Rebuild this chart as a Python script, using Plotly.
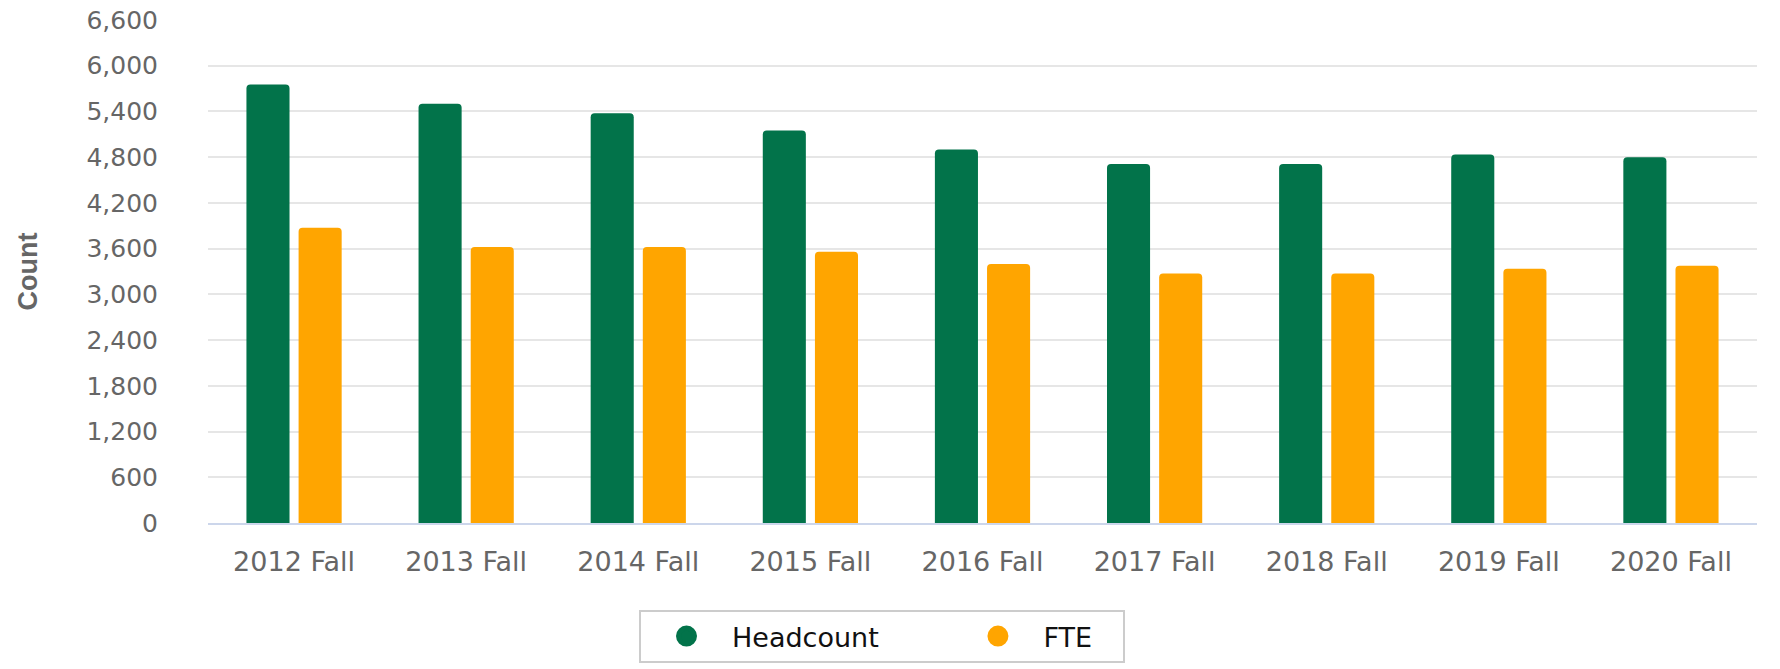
import plotly.graph_objects as go

categories = ["2012 Fall", "2013 Fall", "2014 Fall", "2015 Fall", "2016 Fall",
              "2017 Fall", "2018 Fall", "2019 Fall", "2020 Fall"]
headcount = [5755, 5500, 5375, 5150, 4900, 4710, 4710, 4835, 4800]
fte = [3875, 3620, 3620, 3560, 3400, 3275, 3275, 3335, 3375]
series_names = ["Headcount", "FTE"]
colors = ["#02734A", "#FFA500"]
y_ticks = list(range(0, 6601, 600))

NB = "\u00a0"
fig = go.Figure()
for name, vals, col in zip(series_names, [headcount, fte], colors):
    fig.add_trace(go.Bar(x=categories, y=vals, name=name, marker_color=col,
                         marker_line_width=0, showlegend=False))
# legend entries with circular symbols
legend_labels = [series_names[0] + NB * 8, series_names[1] + NB * 3]
for name, col in zip(legend_labels, colors):
    fig.add_trace(go.Scatter(x=[None], y=[None], mode="markers", name=name,
                             marker=dict(symbol="circle", size=24, color=col,
                                         line=dict(color=col, width=5))))

fig.update_layout(
    width=1780, height=669,
    margin=dict(l=208, r=23, t=20, b=146, autoexpand=False),
    paper_bgcolor="white", plot_bgcolor="white",
    barmode="group", bargap=0.394, bargroupgap=0.174, barcornerradius=4,
    font=dict(family="DejaVu Sans, sans-serif", color="#666666"),
    legend=dict(orientation="h", xref="container", yref="container",
                x=639 / 1780, xanchor="left", y=1 - 610 / 669, yanchor="top",
                bordercolor="#cccccc", borderwidth=2, bgcolor="white",
                font=dict(size=27, color="#111111"), itemsizing="trace",
                itemwidth=81, traceorder="normal"),
    showlegend=True,
)
fig.update_xaxes(
    showgrid=False, showline=True, linecolor="#ccd6eb", linewidth=1.5,
    ticks="outside", ticklen=14, tickcolor="rgba(0,0,0,0)",
    tickfont=dict(size=27, color="#666666"), fixedrange=True, automargin=False,
)
fig.update_yaxes(
    range=[0, 6600], tickvals=y_ticks, tickformat=",",
    showgrid=True, gridcolor="#e6e6e6", gridwidth=1.5, zeroline=False,
    ticks="outside", ticklen=44, tickcolor="rgba(0,0,0,0)",
    tickfont=dict(size=25, color="#666666"),
    title=dict(text="<b>Count</b>",
               font=dict(family="Liberation Sans, Arial, sans-serif", size=27, color="#666666"),
               standoff=40),
    fixedrange=True, automargin=False,
)
fig.write_html("out.html")
